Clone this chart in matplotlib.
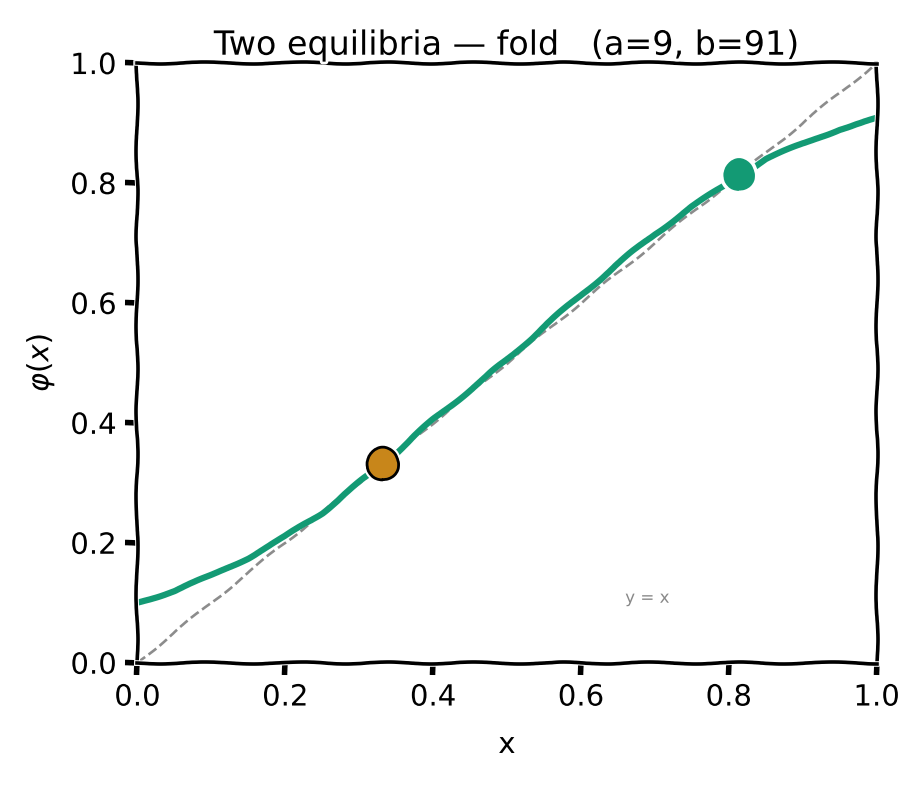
import matplotlib
matplotlib.use("Agg")
import matplotlib.pyplot as plt
import matplotlib.patheffects as pe
import numpy as np

# curve phi(x)
x_vals = [0.0, 0.05, 0.1, 0.15, 0.2, 0.25, 0.3, 0.35, 0.4, 0.45, 0.5,
          0.55, 0.6, 0.65, 0.7, 0.75, 0.8, 0.85, 0.9, 0.95, 1.0]
phi_vals = [0.10, 0.12, 0.145, 0.175, 0.21, 0.25, 0.30, 0.35, 0.405, 0.455, 0.505,
            0.56, 0.613, 0.665, 0.715, 0.76, 0.80, 0.84, 0.865, 0.89, 0.907]

# equilibria
unstable_x, unstable_y = 0.332, 0.332
stable_x, stable_y = 0.814, 0.814

title = "Two equilibria \u2014 fold   (a=9, b=91)"

plt.xkcd(scale=1, length=100, randomness=2)
plt.rcParams['font.family'] = ['DejaVu Sans']

fig = plt.figure(figsize=(9.15, 7.88), dpi=100)
ax = fig.add_axes([0.150, 0.159, 0.808, 0.761])

ax.plot([0, 1], [0, 1], '--', color='#8c8c8c', lw=1.9)
ax.plot(x_vals, phi_vals, color='#139a74', lw=4.5)

halo = [pe.withStroke(linewidth=5, foreground='white')]
ax.plot(unstable_x, unstable_y, 'o', ms=23, color='#c8861a', mec='black', mew=2,
        zorder=5, path_effects=halo)
ax.plot(stable_x, stable_y, 'o', ms=23, color='#139a74', mec='#139a74', mew=0,
        zorder=5, path_effects=halo)

ax.text(0.66, 0.1, "y = x", fontsize=12, color='#888888', family='DejaVu Sans')

ax.set_xlim(0, 1)
ax.set_ylim(0, 1)
ax.set_xticks([0, 0.2, 0.4, 0.6, 0.8, 1.0])
ax.set_yticks([0, 0.2, 0.4, 0.6, 0.8, 1.0])
for s in ax.spines.values():
    s.set_linewidth(2.6)
ax.tick_params(labelsize=21, width=4, length=9, pad=6)
ax.set_xlabel("x", fontsize=21, labelpad=14)
ax.set_ylabel(r"$\varphi(x)$", fontsize=21, labelpad=10)
ax.set_title(title, fontsize=24, pad=6)

fig.savefig("out.png", dpi=100)
